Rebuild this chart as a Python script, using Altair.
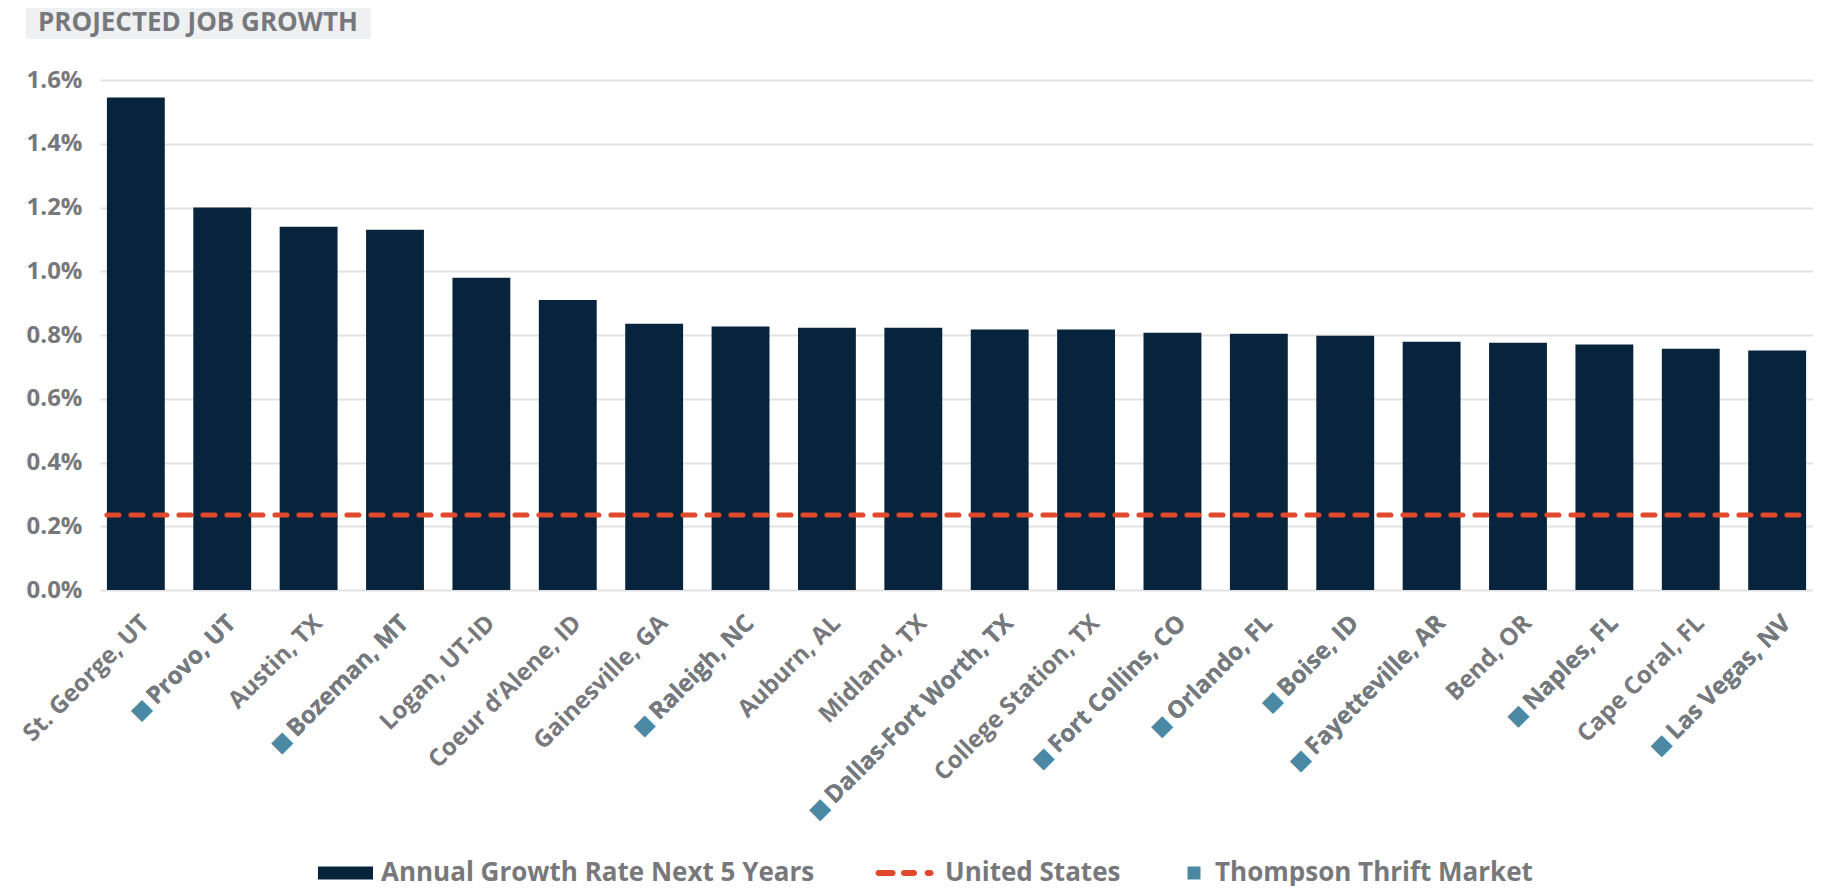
import altair as alt
import pandas as pd

# ---------------- data ----------------
title_text = ["PROJECTED JOB GROWTH"]
cities = [
    "St. George, UT", "Provo, UT", "Austin, TX", "Bozeman, MT", "Logan, UT-ID",
    "Coeur d’Alene, ID", "Gainesville, GA", "Raleigh, NC", "Auburn, AL", "Midland, TX",
    "Dallas-Fort Worth, TX", "College Station, TX", "Fort Collins, CO", "Orlando, FL",
    "Boise, ID", "Fayetteville, AR", "Bend, OR", "Naples, FL", "Cape Coral, FL", "Las Vegas, NV",
]
growth = [1.545, 1.20, 1.14, 1.13, 0.98, 0.91, 0.835, 0.827, 0.823, 0.823,
          0.817, 0.817, 0.807, 0.804, 0.798, 0.779, 0.776, 0.770, 0.757, 0.751]
tt_market = [False, True, False, True, False, False, False, True, False, False,
             True, False, True, True, True, True, False, True, False, True]
us_rate = [0.235]
y_ticks = [0.0, 0.2, 0.4, 0.6, 0.8, 1.0, 1.2, 1.4, 1.6]
legend_a_labels = ["Annual Growth Rate Next 5 Years", "United States"]
legend_b_labels = ["Thompson Thrift Market"]

# ---------------- style ----------------
NAVY = "#08243d"
RED = "#e0492c"
TEAL = "#4a88a4"
GRAY = "#77787b"
FONT = "Open Sans"
LABEL_FONT = "Open Sans, DejaVu Sans"


def dash(x1, x2, r=0.2):
    return f"M{x1},{-r}A{r},{r} 0 0 0 {x1},{r}H{x2}A{r},{r} 0 0 0 {x2},{-r}Z"


legend_a_shapes = [
    "M-2.67,-0.43H1V0.43H-2.67Z",
    dash(-2.9, -1.96) + " " + dash(-1.2, -0.53) + " " + dash(0.38, 0.57),
]

df = pd.DataFrame({
    "city": cities,
    "growth": growth,
    "tt": tt_market,
    "dlabel": ["◼\u2009" + c for c in cities],
})

x_scale = alt.Scale(domain=cities, paddingInner=0.33, paddingOuter=0.08)
x_enc = alt.X("city:N", scale=x_scale, axis=None)

base = alt.Chart(df)

bars = base.mark_bar(color=NAVY).encode(
    x=x_enc,
    y=alt.Y(
        "growth:Q",
        scale=alt.Scale(domain=[0, 1.6], nice=False),
        axis=alt.Axis(
            values=y_ticks,
            labelExpr="format(datum.value, '.1f') + '%'",
            grid=True, gridColor="#e2e2e2", gridWidth=2,
            domain=False, ticks=False, labelPadding=18,
            labelFont=FONT, labelFontSize=24, labelFontWeight="bold",
            labelColor=GRAY, title=None,
        ),
    ),
)

us_line = alt.Chart(pd.DataFrame({"us": us_rate})).mark_rule(
    color=RED, strokeWidth=5, strokeDash=[12, 12], strokeCap="round"
).encode(
    y="us:Q",
    x=alt.X(datum=cities[0], type="nominal", bandPosition=0, scale=x_scale, axis=None),
    x2=alt.X2(datum=cities[-1], bandPosition=1),
)

label_style = dict(angle=315, align="right", baseline="middle", dx=-14, dy=28,
                   font=LABEL_FONT, fontSize=24, fontWeight="bold")

teal_labels = base.transform_filter("datum.tt").mark_text(color=TEAL, **label_style).encode(
    x=x_enc, y=alt.datum(0), text="dlabel:N"
)
gray_labels = base.mark_text(color=GRAY, **label_style).encode(
    x=x_enc, y=alt.datum(0), text="city:N"
)

leg_common = dict(
    title=None, orient="none", direction="horizontal",
    labelFont=FONT, labelFontSize=26, labelFontWeight="bold", labelColor=GRAY,
    labelLimit=700, labelOffset=8, symbolStrokeWidth=0, symbolOpacity=1, padding=0,
)
leg_a = alt.Legend(legendX=243, legendY=778, columnPadding=60, symbolSize=900, **leg_common)
leg_b = alt.Legend(legendX=1081, legendY=780, symbolSize=169, symbolType="square", **leg_common)

legend_a_layer = alt.Chart(pd.DataFrame({"series": legend_a_labels})).transform_filter(
    "false"
).mark_point(filled=True, strokeWidth=0, opacity=1).encode(
    color=alt.Color("series:N", scale=alt.Scale(domain=legend_a_labels, range=[NAVY, RED]), legend=leg_a),
    shape=alt.Shape("series:N", scale=alt.Scale(domain=legend_a_labels, range=legend_a_shapes), legend=leg_a),
)
legend_b_layer = alt.Chart(pd.DataFrame({"market": legend_b_labels})).transform_filter(
    "false"
).mark_square(strokeWidth=0, opacity=1).encode(
    fill=alt.Fill("market:N", scale=alt.Scale(domain=legend_b_labels, range=[TEAL]), legend=leg_b),
)

title_df = pd.DataFrame({"t": title_text})
title_box = alt.Chart(title_df).mark_rect(color="#eff0f2").encode(
    x=alt.value(-74), x2=alt.value(271), y=alt.value(-72), y2=alt.value(-41)
)
title_label = alt.Chart(title_df).mark_text(
    align="left", baseline="middle", font=FONT, fontSize=26, fontWeight="bold", color=GRAY
).encode(text="t:N", x=alt.value(-62), y=alt.value(-57))

chart = alt.layer(
    title_box, title_label, bars, us_line, teal_labels, gray_labels,
    legend_a_layer, legend_b_layer,
).properties(
    width=1713, height=510,
    padding={"left": 11, "top": 0, "right": 0, "bottom": 0},
    background="white",
).configure_view(strokeWidth=0)

chart.save("out.html", embed_options={"renderer": "svg", "actions": False})
